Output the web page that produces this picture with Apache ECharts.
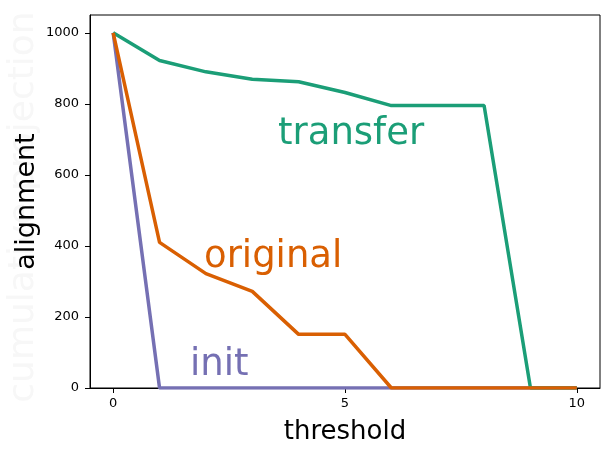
<!DOCTYPE html>
<html>
<head>
<meta charset="utf-8">
<script src="https://cdn.jsdelivr.net/npm/echarts@6/dist/echarts.min.js"></script>
<style>
  html, body { margin: 0; padding: 0; background: #fff; }
  #chart { width: 615px; height: 461px; }
</style>
</head>
<body>
<div id="chart"></div>
<script>
// data
const thresholds = [0, 1, 2, 3, 4, 5, 6, 7, 8, 9, 10];
const transfer = [1000, 922, 890, 869, 862, 832, 795, 795, 795, 0, 0];
const original = [1000, 410, 322, 272, 151, 151, 0, 0, 0, 0, 0];
const init = [1000, 0, 0, 0, 0, 0, 0, 0, 0, 0, 0];
const xTicks = [0, 5, 10];
const yTicks = [0, 200, 400, 600, 800, 1000];

const font = 'DejaVu Sans';

function pairs(vals) {
  return thresholds.map((t, i) => [t, vals[i]]);
}

function lineSeries(name, vals, color) {
  return {
    name: name,
    type: 'line',
    data: pairs(vals),
    symbol: 'none',
    lineStyle: { color: color, width: 3.5 },
    itemStyle: { color: color }
  };
}

const chart = echarts.init(document.getElementById('chart'));

chart.setOption({
  animation: false,
  grid: {
    left: 90, right: 15, top: 15, bottom: 73,
    containLabel: false,
    outerBoundsMode: 'none',
    show: true, borderColor: '#000', borderWidth: 1
  },
  xAxis: {
    type: 'value',
    min: -0.5, max: 10.5,
    name: 'threshold',
    nameLocation: 'middle',
    nameGap: 31,
    nameMoveOverlap: false,
    nameTextStyle: { fontFamily: font, fontSize: 26, color: '#000', verticalAlign: 'top' },
    axisLine: { show: true, onZero: false, lineStyle: { color: '#000', width: 1 } },
    axisTick: { show: true, length: 5, inside: false, customValues: xTicks, lineStyle: { color: '#000' } },
    axisLabel: { customValues: xTicks, fontFamily: font, fontSize: 13, color: '#000', margin: 9,
      formatter: v => String(v) },
    splitLine: { show: false }
  },
  yAxis: {
    type: 'value',
    min: 0, max: 1050,
    name: 'alignment',
    nameLocation: 'middle',
    nameGap: 50,
    nameMoveOverlap: false,
    nameTextStyle: { fontFamily: font, fontSize: 27, color: '#000' },
    axisLine: { show: true, onZero: false, lineStyle: { color: '#000', width: 1 } },
    axisTick: { show: true, length: 5, inside: false, customValues: yTicks, lineStyle: { color: '#000' } },
    axisLabel: { customValues: yTicks, fontFamily: font, fontSize: 13, color: '#000', margin: 11,
      formatter: v => String(v) },
    splitLine: { show: false }
  },
  series: [
    lineSeries('init', init, '#7570b3'),
    lineSeries('transfer', transfer, '#1b9e77'),
    lineSeries('original', original, '#d95f02')
  ],
  graphic: [
    {
      type: 'text', z: -1,
      x: 24, y: 207,
      rotation: Math.PI / 2,
      style: {
        text: 'cumulative projection',
        fontFamily: font, fontSize: 36, fill: '#f7f7f7',
        align: 'center', verticalAlign: 'middle'
      }
    },
    {
      type: 'text', x: 278, y: 134,
      style: { text: 'transfer', fontFamily: font, fontSize: 37, fill: '#1b9e77', verticalAlign: 'middle' }
    },
    {
      type: 'text', x: 204, y: 257,
      style: { text: 'original', fontFamily: font, fontSize: 37, fill: '#d95f02', verticalAlign: 'middle' }
    },
    {
      type: 'text', x: 190, y: 365,
      style: { text: 'init', fontFamily: font, fontSize: 37, fill: '#7570b3', verticalAlign: 'middle' }
    }
  ]
});
</script>
</body>
</html>
